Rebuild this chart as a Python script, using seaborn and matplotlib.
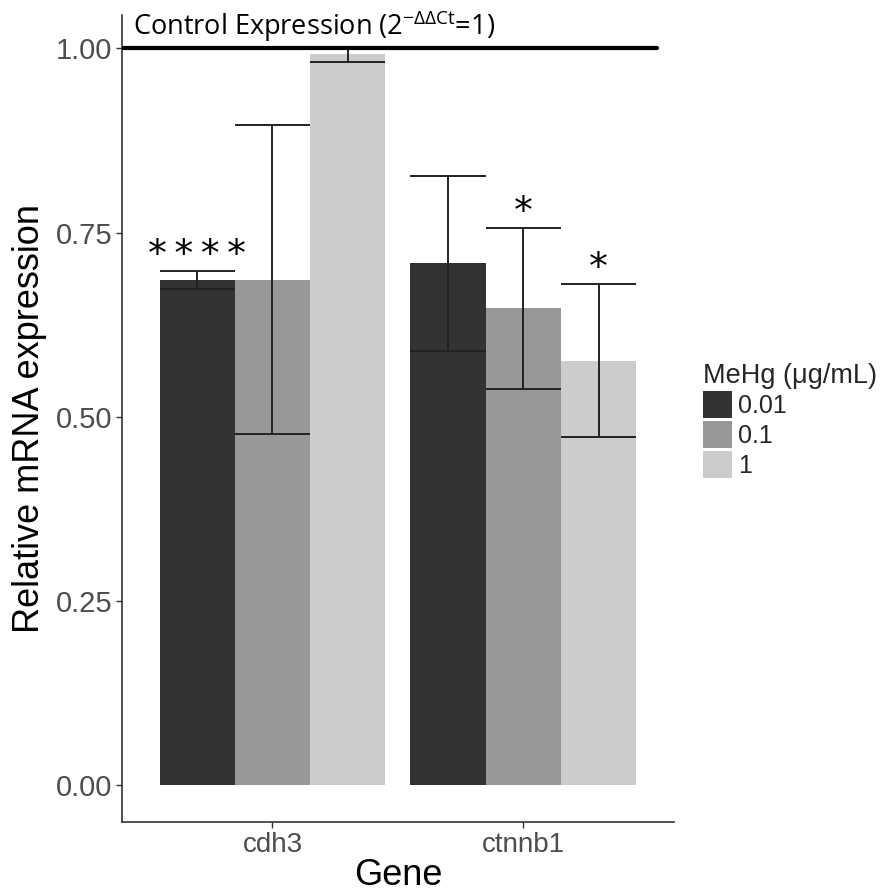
import numpy as np
import pandas as pd
import seaborn as sns
import matplotlib.pyplot as plt
from matplotlib.patches import Patch

genes = ['cdh3', 'ctnnb1']
doses = ['0.01', '0.1', '1']
means = {'cdh3': [0.686, 0.686, 0.992], 'ctnnb1': [0.708, 0.647, 0.576]}
errs = {'cdh3': [0.012, 0.210, 0.010], 'ctnnb1': [0.119, 0.109, 0.104]}
stars = {'cdh3': ['*\u2009*\u2009*\u2009*', '', ''], 'ctnnb1': ['', '*', '*']}
colors = ['#333333', '#989898', '#CCCCCC']

rows = []
for g in genes:
    for i, d in enumerate(doses):
        rows.append({'Gene': g, 'MeHg': d, 'expr': means[g][i], 'err': errs[g][i], 'star': stars[g][i]})
df = pd.DataFrame(rows)

sns.set_style('white')
plt.rcParams['font.family'] = ['Liberation Sans', 'DejaVu Sans']

fig = plt.figure(figsize=(8.82, 8.93), dpi=100)
ax = fig.add_axes([0.1383, 0.0795, 0.764 - 0.1383, 0.983 - 0.0795])

sns.barplot(data=df, x='Gene', y='expr', hue='MeHg', hue_order=doses, order=genes,
            palette=colors, width=0.9, gap=0, errorbar=None, saturation=1,
            linewidth=0, ax=ax, legend=False)

# error bars + significance stars, placed on the drawn bars
for i, d in enumerate(doses):
    cont = ax.containers[i]
    for bar, g in zip(cont, genes):
        r = df[(df.Gene == g) & (df.MeHg == d)].iloc[0]
        xc = bar.get_x() + bar.get_width() / 2
        x0, x1 = bar.get_x(), bar.get_x() + bar.get_width()
        lo, hi = r.expr - r.err, r.expr + r.err
        ax.vlines(xc, lo, hi, color='#222222', lw=1.4, zorder=4)
        ax.hlines([lo, hi], x0, x1, color='#222222', lw=1.4, zorder=4)
        if r.star:
            ax.text(xc, hi - 0.004, r.star, ha='center', va='bottom', fontsize=27,
                    family=['DejaVu Sans'], color='black')

ax.axhline(1.0, xmin=0, xmax=0.969, color='black', lw=3, zorder=5)
ax.text(0.02, 1.03, r'Control Expression (2$^{\mathregular{-\Delta\Delta Ct}}$=1)',
        transform=ax.get_yaxis_transform(), ha='left', va='center', fontsize=19.5,
        family=['Open Sans', 'DejaVu Sans'], color='black')

ax.set_xlim(-0.6, 1.6)
ax.set_ylim(-0.05, 1.045)
ax.set_yticks([0, 0.25, 0.5, 0.75, 1.0])
ax.set_yticklabels(['0.00', '0.25', '0.50', '0.75', '1.00'])
ax.tick_params(axis='both', length=4, width=1, color='#333333', labelcolor='#4D4D4D',
               left=True, bottom=True, pad=3)
ax.tick_params(axis='y', labelsize=21)
ax.tick_params(axis='x', labelsize=20)
for s in ['top', 'right']:
    ax.spines[s].set_visible(False)
for s in ['left', 'bottom']:
    ax.spines[s].set_color('#333333')
    ax.spines[s].set_linewidth(1.2)
ax.set_xlabel('Gene', fontsize=26, color='black', labelpad=0)
ax.set_ylabel('Relative mRNA expression', fontsize=26, color='black', labelpad=6)

handles = [Patch(facecolor=c, edgecolor='none') for c in colors]
fig.legend(handles, doses, title='MeHg (\u03bcg/mL)', loc='upper left',
           bbox_to_anchor=(0.786, 0.605), frameon=False, fontsize=18, title_fontsize=19.5,
           handlelength=1.15, handleheight=1.3, labelspacing=0.1, handletextpad=0.25,
           borderaxespad=0, alignment='left')

fig.savefig('out.png', dpi=100)
